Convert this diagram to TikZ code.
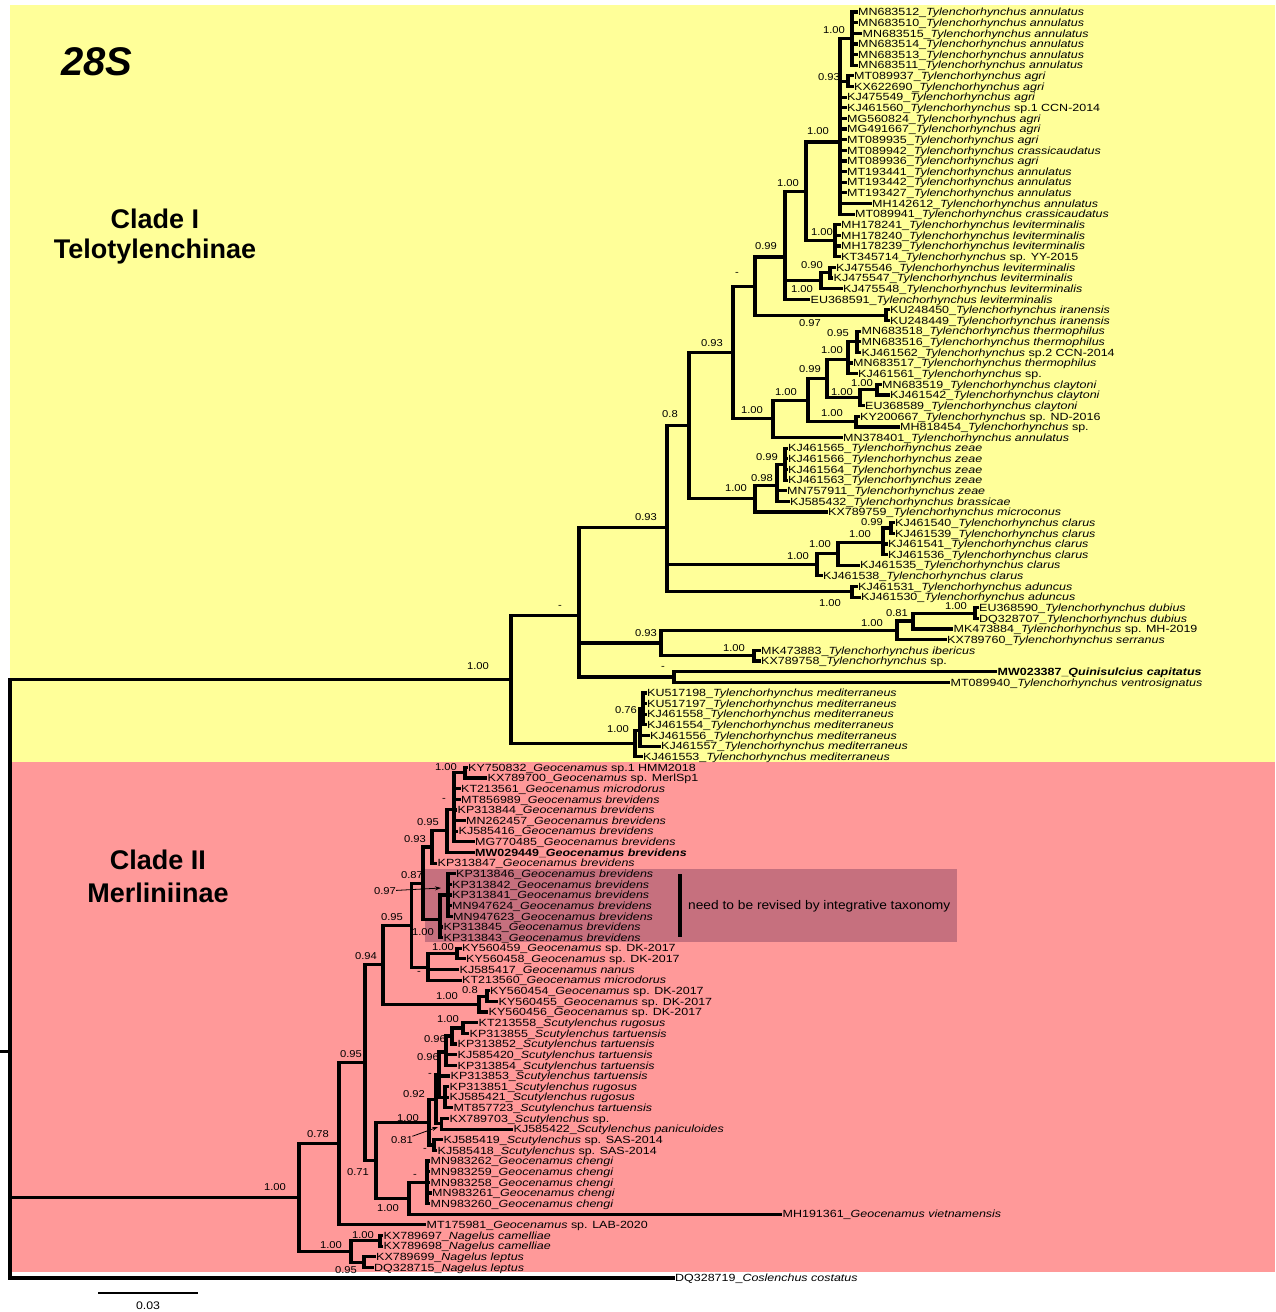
\documentclass[tikz,border=0pt]{standalone}
\usepackage{fontspec}
\setmainfont{Liberation Sans}
\newfontfamily\lff{Liberation Sans}[FakeStretch=1.2]
\newfontfamily\bsf{Liberation Sans}[FakeStretch=1.12]
\newfontfamily\nrf{Liberation Sans}[FakeStretch=1.1]
\usetikzlibrary{arrows.meta}
\definecolor{bgy}{RGB}{255,255,153}
\definecolor{bgp}{RGB}{255,153,153}
\definecolor{boxc}{RGB}{198,112,126}
\newcommand\tyl[1]{\textit{Tylenchorhynchus #1}}
\newcommand\geo[1]{\textit{Geocenamus #1}}
\newcommand\scu[1]{\textit{Scutylenchus #1}}
\newcommand\nag[1]{\textit{Nagelus #1}}
\newcommand\tip[4]{%
  \pgfmathsetmacro\treey{12+(#2-1)*10.639}%
  \expandafter\xdef\csname ny@#1\endcsname{\treey}%
  \coordinate (#1) at (#3,\treey);%
  \node[leaf] (#1l) at (#1) {#4};%
}
\newcommand\inode[3]{%
  \gdef\treeacc{0}\gdef\treecnt{0}%
  \foreach \ch in {#3}{%
    \pgfmathparse{\treeacc+\csname ny@\ch\endcsname}\xdef\treeacc{\pgfmathresult}%
    \pgfmathparse{\treecnt+1}\xdef\treecnt{\pgfmathresult}}%
  \pgfmathsetmacro\treey{\treeacc/\treecnt}%
  \expandafter\xdef\csname ny@#1\endcsname{\treey}%
  \coordinate (#1) at (#2,\treey);%
  \foreach \ch in {#3}{\draw[br] (#1) |- (\ch);}%
}
\newcounter{bsc}
\newcommand\bs[3]{\stepcounter{bsc}\node[bsl] (bs\arabic{bsc}) at (#1,#2) {#3};}
\tikzset{
  br/.style={line width=3.2pt, line cap=rect, line join=miter},
  leaf/.style={anchor=west, inner xsep=2pt, inner ysep=0pt, text height=7.5pt, text depth=0pt,
    font=\lff\fontsize{10.4}{10.4}\selectfont},
  bsl/.style={inner sep=0pt, font=\bsf\fontsize{10}{10}\selectfont},
  clade/.style={inner sep=0pt, font=\bfseries\fontsize{27}{30}\selectfont},
}
\begin{document}
\begin{tikzpicture}[x=1pt,y=-1pt]
\useasboundingbox (0,0) rectangle (1275,1312);
\fill[white] (0,0) rectangle (1275,1312);
\fill[bgy] (10,5) rectangle (1275,762);
\fill[bgp] (10,762) rectangle (1275,1272);
\fill[boxc] (425,869) rectangle (957,942);
\coordinate (bar1) at (680,874);
\coordinate (bar2) at (680,937);
\draw[line width=3.2pt] (bar1) -- (bar2);
\node[anchor=west, inner sep=0pt, font=\nrf\fontsize{12.5}{14}\selectfont] (revise) at (688,906) {need to be revised by integrative taxonomy};

\node[inner sep=0pt, font=\bfseries\itshape\fontsize{40}{41}\selectfont] (title) at (97,62) {28S};
\node[clade] (c1a) at (155,219) {Clade I};
\node[clade] (c1b) at (155,252) {Telotylenchinae};
\node[clade] (c2a) at (158,860) {Clade II};
\node[clade] (c2b) at (158,893) {Merliniinae};

% leaves
\tip{L1}{1}{856}{MN683512\_\tyl{annulatus}}
\tip{L2}{2}{856}{MN683510\_\tyl{annulatus}}
\tip{L3}{3}{860.5}{MN683515\_\tyl{annulatus}}
\tip{L4}{4}{856}{MN683514\_\tyl{annulatus}}
\tip{L5}{5}{856}{MN683513\_\tyl{annulatus}}
\tip{L6}{6}{856}{MN683511\_\tyl{annulatus}}
\tip{L7}{7}{852}{MT089937\_\tyl{agri}}
\tip{L8}{8}{852}{KX622690\_\tyl{agri}}
\tip{L9}{9}{845}{KJ475549\_\tyl{agri}}
\tip{L10}{10}{845}{KJ461560\_\textit{Tylenchorhynchus} sp.1 CCN-2014}
\tip{L11}{11}{845}{MG560824\_\tyl{agri}}
\tip{L12}{12}{845}{MG491667\_\tyl{agri}}
\tip{L13}{13}{845}{MT089935\_\tyl{agri}}
\tip{L14}{14}{845}{MT089942\_\tyl{crassicaudatus}}
\tip{L15}{15}{845}{MT089936\_\tyl{agri}}
\tip{L16}{16}{845}{MT193441\_\tyl{annulatus}}
\tip{L17}{17}{845}{MT193442\_\tyl{annulatus}}
\tip{L18}{18}{845}{MT193427\_\tyl{annulatus}}
\tip{L19}{19}{870}{MH142612\_\tyl{annulatus}}
\tip{L20}{20}{853}{MT089941\_\tyl{crassicaudatus}}
\tip{L21}{21}{839}{MH178241\_\tyl{leviterminalis}}
\tip{L22}{22}{839}{MH178240\_\tyl{leviterminalis}}
\tip{L23}{23}{839}{MH178239\_\tyl{leviterminalis}}
\tip{L24}{24}{839}{KT345714\_\textit{Tylenchorhynchus} sp. YY-2015}
\tip{L25}{25}{834}{KJ475546\_\tyl{leviterminalis}}
\tip{L26}{26}{831.5}{KJ475547\_\tyl{leviterminalis}}
\tip{L27}{27}{841}{KJ475548\_\tyl{leviterminalis}}
\tip{L28}{28}{808.5}{EU368591\_\tyl{leviterminalis}}
\tip{L29}{29}{888}{KU248450\_\tyl{iranensis}}
\tip{L30}{30}{888}{KU248449\_\tyl{iranensis}}
\tip{L31}{31}{859.5}{MN683518\_\tyl{thermophilus}}
\tip{L32}{32}{859.5}{MN683516\_\tyl{thermophilus}}
\tip{L33}{33}{859.5}{KJ461562\_\textit{Tylenchorhynchus} sp.2 CCN-2014}
\tip{L34}{34}{851}{MN683517\_\tyl{thermophilus}}
\tip{L35}{35}{856}{KJ461561\_\textit{Tylenchorhynchus} sp.}
\tip{L36}{36}{880}{MN683519\_\tyl{claytoni}}
\tip{L37}{37}{888}{KJ461542\_\tyl{claytoni}}
\tip{L38}{38}{863}{EU368589\_\tyl{claytoni}}
\tip{L39}{39}{858}{KY200667\_\textit{Tylenchorhynchus} sp. ND-2016}
\tip{L40}{40}{898}{MH818454\_\textit{Tylenchorhynchus} sp.}
\tip{L41}{41}{841}{MN378401\_\tyl{annulatus}}
\tip{L42}{42}{786}{KJ461565\_\tyl{zeae}}
\tip{L43}{43}{786}{KJ461566\_\tyl{zeae}}
\tip{L44}{44}{786}{KJ461564\_\tyl{zeae}}
\tip{L45}{45}{786}{KJ461563\_\tyl{zeae}}
\tip{L46}{46}{785}{MN757911\_\tyl{zeae}}
\tip{L47}{47}{788}{KJ585432\_\tyl{brassicae}}
\tip{L48}{48}{826}{KX789759\_\tyl{microconus}}
\tip{L49}{49}{893}{KJ461540\_\tyl{clarus}}
\tip{L50}{50}{893}{KJ461539\_\tyl{clarus}}
\tip{L51}{51}{886}{KJ461541\_\tyl{clarus}}
\tip{L52}{52}{886}{KJ461536\_\tyl{clarus}}
\tip{L53}{53}{858}{KJ461535\_\tyl{clarus}}
\tip{L54}{54}{821}{KJ461538\_\tyl{clarus}}
\tip{L55}{55}{856}{KJ461531\_\tyl{aduncus}}
\tip{L56}{56}{859}{KJ461530\_\tyl{aduncus}}
\tip{L57}{57}{977}{EU368590\_\tyl{dubius}}
\tip{L58}{58}{977}{DQ328707\_\tyl{dubius}}
\tip{L59}{59}{951.5}{MK473884\_\textit{Tylenchorhynchus} sp. MH-2019}
\tip{L60}{60}{945}{KX789760\_\tyl{serranus}}
\tip{L61}{61}{759}{MK473883\_\tyl{ibericus}}
\tip{L62}{62}{759}{KX789758\_\textit{Tylenchorhynchus} sp.}
\tip{L63}{63}{995.5}{\bfseries MW023387\_\textit{Quinisulcius capitatus}}
\tip{L64}{64}{948.5}{MT089940\_\tyl{ventrosignatus}}
\tip{L65}{65}{645}{KU517198\_\tyl{mediterraneus}}
\tip{L66}{66}{645}{KU517197\_\tyl{mediterraneus}}
\tip{L67}{67}{645}{KJ461558\_\tyl{mediterraneus}}
\tip{L68}{68}{645}{KJ461554\_\tyl{mediterraneus}}
\tip{L69}{69}{648}{KJ461556\_\tyl{mediterraneus}}
\tip{L70}{70}{659}{KJ461557\_\tyl{mediterraneus}}
\tip{L71}{71}{641}{KJ461553\_\tyl{mediterraneus}}
\tip{L72}{72}{466}{KY750832\_\textit{Geocenamus} sp.1 HMM2018}
\tip{L73}{73}{485.5}{KX789700\_\textit{Geocenamus} sp. MerlSp1}
\tip{L74}{74}{459}{KT213561\_\geo{microdorus}}
\tip{L75}{75}{459}{MT856989\_\geo{brevidens}}
\tip{L76}{76}{455.5}{KP313844\_\geo{brevidens}}
\tip{L77}{77}{464}{MN262457\_\geo{brevidens}}
\tip{L78}{78}{456.5}{KJ585416\_\geo{brevidens}}
\tip{L79}{79}{473}{MG770485\_\geo{brevidens}}
\tip{L80}{80}{473}{\bfseries MW029449\_\geo{brevidens}}
\tip{L81}{81}{435.5}{KP313847\_\geo{brevidens}}
\tip{L82}{82}{454}{KP313846\_\geo{brevidens}}
\tip{L83}{83}{450}{KP313842\_\geo{brevidens}}
\tip{L84}{84}{450}{KP313841\_\geo{brevidens}}
\tip{L85}{85}{450}{MN947624\_\geo{brevidens}}
\tip{L86}{86}{451}{MN947623\_\geo{brevidens}}
\tip{L87}{87}{441.5}{KP313845\_\geo{brevidens}}
\tip{L88}{88}{441.5}{KP313843\_\geo{brevidens}}
\tip{L89}{89}{460}{KY560459\_\textit{Geocenamus} sp. DK-2017}
\tip{L90}{90}{464}{KY560458\_\textit{Geocenamus} sp. DK-2017}
\tip{L91}{91}{457.5}{KJ585417\_\geo{nanus}}
\tip{L92}{92}{460}{KT213560\_\geo{microdorus}}
\tip{L93}{93}{488}{KY560454\_\textit{Geocenamus} sp. DK-2017}
\tip{L94}{94}{496.5}{KY560455\_\textit{Geocenamus} sp. DK-2017}
\tip{L95}{95}{486.5}{KY560456\_\textit{Geocenamus} sp. DK-2017}
\tip{L96}{96}{476.5}{KT213558\_\scu{rugosus}}
\tip{L97}{97}{467.5}{KP313855\_\scu{tartuensis}}
\tip{L98}{98}{455.5}{KP313852\_\scu{tartuensis}}
\tip{L99}{99}{455.5}{KJ585420\_\scu{tartuensis}}
\tip{L100}{100}{455.5}{KP313854\_\scu{tartuensis}}
\tip{L101}{101}{448.5}{KP313853\_\scu{tartuensis}}
\tip{L102}{102}{447.5}{KP313851\_\scu{rugosus}}
\tip{L103}{103}{447.5}{KJ585421\_\scu{rugosus}}
\tip{L104}{104}{451.5}{MT857723\_\scu{tartuensis}}
\tip{L105}{105}{447.5}{KX789703\_\textit{Scutylenchus} sp.}
\tip{L106}{106}{511.5}{KJ585422\_\scu{paniculoides}}
\tip{L107}{107}{441.5}{KJ585419\_\textit{Scutylenchus} sp. SAS-2014}
\tip{L108}{108}{435.5}{KJ585418\_\textit{Scutylenchus} sp. SAS-2014}
\tip{L109}{109}{428.5}{MN983262\_\geo{chengi}}
\tip{L110}{110}{428.5}{MN983259\_\geo{chengi}}
\tip{L111}{111}{428.5}{MN983258\_\geo{chengi}}
\tip{L112}{112}{430}{MN983261\_\geo{chengi}}
\tip{L113}{113}{428.5}{MN983260\_\geo{chengi}}
\tip{L114}{114}{780.5}{MH191361\_\geo{vietnamensis}}
\tip{L115}{115}{424.5}{MT175981\_\textit{Geocenamus} sp. LAB-2020}
\tip{L116}{116}{381.5}{KX789697\_\nag{camelliae}}
\tip{L117}{117}{381.5}{KX789698\_\nag{camelliae}}
\tip{L118}{118}{374}{KX789699\_\nag{leptus}}
\tip{L119}{119}{372}{DQ328715\_\nag{leptus}}
\tip{L120}{120}{673}{DQ328719\_\textit{Coslenchus costatus}}

% Clade I
\inode{N1}{852}{L1,L2,L3,L4,L5,L6}
\inode{N2}{848}{L7,L8}
\inode{P1}{840}{N1,N2,L9,L10,L11,L12,L13,L14,L15,L16,L17,L18,L19,L20}
\inode{Q1}{835}{L21,L22,L23,L24}
\inode{P2}{806}{P1,Q1}
\inode{Q2a}{830}{L25,L26}
\inode{Q2}{821}{Q2a,L27}
\inode{P3}{785}{P2,Q2,L28}
\inode{I}{886}{L29,L30}
\inode{R1}{755}{P3,I}
\inode{T1a}{857}{L31,L32,L33}
\inode{T1}{848}{T1a,L34,L35}
\inode{T2a}{877}{L36,L37}
\inode{T2}{860}{T2a,L38}
\inode{S2}{827}{T1,T2}
\inode{S3}{856}{L39,L40}
\inode{S1}{808}{S2,S3}
\inode{S}{773}{S1,L41}
\inode{D}{733}{R1,S}
\inode{Z2}{785}{L42,L43,L44,L45}
\inode{Z1}{777}{Z2,L46,L47}
\inode{Z}{755}{Z1,L48}
\inode{C}{689}{D,Z}
\inode{K3}{891}{L49,L50}
\inode{K2}{883}{K3,L51,L52}
\inode{K1}{838}{K2,L53}
\inode{K}{817}{K1,L54}
\inode{A2}{852}{L55,L56}
\inode{B}{667}{C,K,A2}
\inode{DU}{975}{L57,L58}
\inode{F1}{913}{DU,L59}
\inode{F}{897}{F1,L60}
\inode{G}{754}{L61,L62}
\inode{E}{661}{F,G}
\inode{H}{674}{L63,L64}
\inode{A}{579}{B,E,H}
\inode{M2}{643}{L65,L66,L67,L68}
\inode{M1}{640}{M2,L69,L70}
\inode{M}{635}{M1,L71}
\inode{CI}{511}{A,M}

% Clade II
\inode{G1}{465}{L72,L73}
\inode{X0}{454}{G1,L74,L75,L76,L77,L78,L79}
\inode{X1}{447}{X0,L80}
\inode{X2}{432}{X1,L81}
\inode{Y1}{448}{L82,L83,L84,L85,L86}
\inode{Y}{440}{Y1,L87,L88}
\inode{X3}{423}{X2,Y}
\inode{W1}{457}{L89,L90}
\inode{W}{428}{W1,L91,L92}
\inode{X4}{411.7}{X3,W}
\inode{V1}{487}{L93,L94}
\inode{V}{479}{V1,L95}
\inode{X5}{383}{X4,V}
\inode{SA1}{463}{L96,L97}
\inode{SA2}{452}{SA1,L98}
\inode{SA3}{446}{SA2,L99,L100}
\inode{SA5}{445}{L102,L103,L104}
\inode{SA4}{439}{SA3,L101,SA5}
\inode{SA7}{441.7}{L105,L106}
\inode{SA6}{436}{SA4,SA7}
\inode{SA9}{434}{L107,L108}
\inode{SA8}{429}{SA6,SA9}
\inode{CH1}{427}{L109,L110,L111,L112,L113}
\inode{CH}{409}{CH1,L114}
\inode{U}{376}{SA8,CH}
\inode{Q}{365}{X5,U}
\inode{P}{339}{Q,L115}
\inode{NG1}{380}{L116,L117}
\inode{NG2}{364}{L118,L119}
\inode{NG}{351}{NG1,NG2}
\inode{CII}{299}{P,NG}
\inode{R0}{10}{CI,CII,L120}
\coordinate (R0s) at (0,\csname ny@R0\endcsname);
\draw[br, line cap=butt] (R0s) -- (R0);

% support values, clade I
\bs{834}{30}{1.00}
\bs{829}{77}{0.93}
\bs{818}{131}{1.00}
\bs{788}{183}{1.00}
\bs{822}{232}{1.00}
\bs{766}{246}{0.99}
\bs{812}{265}{0.90}
\bs{802}{289}{1.00}
\bs{737}{274}{-}
\bs{810}{323}{0.97}
\bs{712}{343}{0.93}
\bs{838}{333}{0.95}
\bs{832}{350}{1.00}
\bs{810}{369}{0.99}
\bs{786}{392}{1.00}
\bs{862}{383}{1.00}
\bs{842}{392}{1.00}
\bs{752}{410}{1.00}
\bs{832}{413}{1.00}
\bs{670}{414}{0.8}
\bs{767}{457}{0.99}
\bs{762}{478}{0.98}
\bs{736}{488}{1.00}
\bs{646}{517}{0.93}
\bs{872}{522}{0.99}
\bs{860}{534}{1.00}
\bs{820}{544}{1.00}
\bs{798}{556}{1.00}
\bs{830}{603}{1.00}
\bs{560}{607}{-}
\bs{956}{606}{1.00}
\bs{897}{613}{0.81}
\bs{872}{623}{1.00}
\bs{646}{633}{0.93}
\bs{734}{648}{1.00}
\bs{663}{668}{-}
\bs{478}{666}{1.00}
\bs{626}{710}{0.76}
\bs{618}{729}{1.00}
% support values, clade II
\bs{446}{767}{1.00}
\bs{444}{800}{-}
\bs{428}{822}{0.95}
\bs{415}{839}{0.93}
\bs{412}{875}{0.87}
\bs{392}{917}{0.95}
\bs{423}{932}{1.00}
\bs{443}{947}{1.00}
\bs{366}{956}{0.94}
\bs{419}{973}{-}
\bs{470}{990}{0.8}
\bs{447}{996}{1.00}
\bs{448}{1019}{1.00}
\bs{435}{1039}{0.96}
\bs{351}{1054}{0.95}
\bs{428}{1057}{0.96}
\bs{430}{1075}{-}
\bs{414}{1094}{0.92}
\bs{438}{1100}{-}
\bs{408}{1118}{1.00}
\bs{318}{1134}{0.78}
\bs{425}{1150}{-}
\bs{358}{1172}{0.71}
\bs{415}{1176}{-}
\bs{275}{1187}{1.00}
\bs{388}{1208}{1.00}
\bs{363}{1235}{1.00}
\bs{331}{1245}{1.00}
\bs{346}{1270}{0.95}

% arrows to small nodes
\node[bsl] (a97) at (385,891) {0.97};
\coordinate (a97t) at (441,888);
\draw[line width=0.8pt, -{Stealth[length=6pt,width=4pt]}] (a97) -- (a97t);
\node[bsl] (a81) at (402,1140) {0.81};
\coordinate (a81t) at (438,1127);
\draw[line width=0.8pt, -{Stealth[length=6pt,width=4pt]}] (a81) -- (a81t);

% scale bar
\coordinate (sb1) at (98,1293);
\coordinate (sb2) at (198,1293);
\draw[line width=2.6pt] (sb1) -- (sb2);
\node[bsl, font=\bsf\fontsize{11}{11}\selectfont] (sbl) at (148,1306) {0.03};
\end{tikzpicture}
\end{document}
